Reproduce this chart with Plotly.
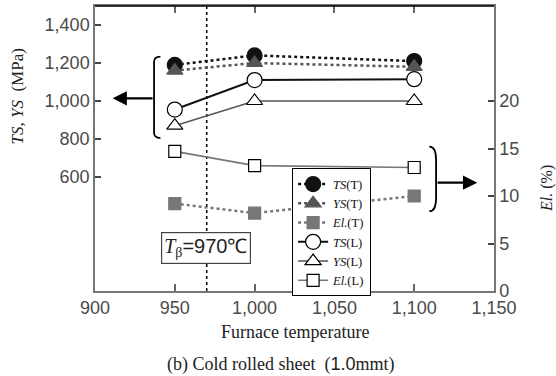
import plotly.graph_objects as go

temps = [950, 1000, 1100]
ts_t = [1190, 1240, 1210]
ys_t = [1160, 1200, 1180]
el_t = [9.2, 8.2, 10.0]
ts_l = [955, 1110, 1115]
ys_l = [870, 1000, 1000]
el_l = [14.7, 13.2, 13.0]

x_ticks = [900, 950, 1000, 1050, 1100, 1150]
y_ticks = [600, 800, 1000, 1200, 1400]
y2_ticks = [0, 5, 10, 15, 20]
t_beta = 970

SERIF = "Liberation Serif"
SANS = "Liberation Sans"

fig = go.Figure()

def add(name, x, y, color, dash, width, symbol, size, fill, yaxis="y"):
    fig.add_trace(go.Scatter(
        x=x, y=y, name=name, yaxis=yaxis, mode="lines+markers",
        line=dict(color=color, dash=dash, width=width),
        marker=dict(symbol=symbol, size=size, color=fill,
                    line=dict(color="black" if fill == "white" else fill, width=1.2)),
    ))

add("<i>TS</i>(T)", temps, ts_t, "#111", "dot", 2.5, "circle", 15, "#111")
add("<i>YS</i>(T)", temps, ys_t, "#555", "dot", 2.5, "triangle-up", 14, "#555")
add("<i>El.</i>(T)", temps, el_t, "#777", "dot", 2.5, "square", 12, "#777", "y2")
add("<i>TS</i>(L)", temps, ts_l, "#111", "solid", 2, "circle", 15, "white")
add("<i>YS</i>(L)", temps, ys_l, "#555", "solid", 1.6, "triangle-up", 14, "white")
add("<i>El.</i>(L)", temps, el_l, "#777", "solid", 1.6, "square", 12, "white", "y2")

tickfont = dict(family=SANS, size=18, color="#4a4a4a")

fig.update_layout(
    width=556, height=376,
    margin=dict(l=95, r=62, t=4, b=85),
    paper_bgcolor="white", plot_bgcolor="white",
    showlegend=True,
    legend=dict(x=0.494, y=0.43, xanchor="left", yanchor="top",
                bgcolor="white", bordercolor="black", borderwidth=1,
                font=dict(family=SERIF, size=12.5, color="#111"),
                tracegroupgap=0),
    xaxis=dict(range=[900, 1150], tickvals=x_ticks, tickformat=",",
               ticks="inside", ticklen=7, tickcolor="#666", tickwidth=1.5,
               showline=True, linecolor="#777", linewidth=1.5, mirror="ticks",
               showgrid=False, zeroline=False, tickfont=tickfont),
    yaxis=dict(range=[0, 1500], tickvals=y_ticks, tickformat=",",
               ticks="inside", ticklen=6, tickcolor="#444", tickwidth=1.5,
               showline=True, linecolor="#777", linewidth=1.5,
               showgrid=False, zeroline=False, tickfont=tickfont),
    yaxis2=dict(range=[0, 30], tickvals=y2_ticks, overlaying="y", side="right",
                ticks="inside", ticklen=6, tickcolor="#444", tickwidth=1.5,
                showline=True, linecolor="#777", linewidth=1.5,
                showgrid=False, zeroline=False, tickfont=tickfont),
)

# top frame line
fig.add_shape(type="line", xref="paper", yref="paper", x0=0, x1=1, y0=1, y1=1,
              line=dict(color="black", width=1.5))
# T_beta dotted line
fig.add_shape(type="line", xref="x", yref="paper", x0=t_beta, x1=t_beta, y0=0, y1=1,
              line=dict(color="black", width=1.5, dash="dot"), layer="below")

# left bracket
fig.add_shape(type="path", xref="x", yref="y",
              path="M 941,1234 Q 937,1234 937,1205 L 937,834 Q 937,805 941,805",
              line=dict(color="black", width=1.8))
fig.add_annotation(x=911, y=1014, ax=937, ay=1014, xref="x", yref="y", axref="x", ayref="y",
                   showarrow=True, arrowhead=2, arrowsize=1.3, arrowwidth=2.2,
                   arrowcolor="black", text="")
# right bracket
fig.add_shape(type="path", xref="x", yref="y2",
              path="M 1109.5,15.2 Q 1113.7,15.2 1113.7,13.8 L 1113.7,9.8 Q 1113.7,8.4 1109.5,8.4",
              line=dict(color="black", width=1.8))
fig.add_annotation(x=1139.5, y=11.4, ax=1113.7, ay=11.4, xref="x", yref="y2", axref="x", ayref="y2",
                   showarrow=True, arrowhead=2, arrowsize=1.3, arrowwidth=2.2,
                   arrowcolor="black", text="")

# T_beta box
fig.add_annotation(x=969.5, y=0.15, xref="x", yref="paper", showarrow=False,
                   xanchor="center", yanchor="middle",
                   text="<i>T</i><sub>β</sub><span style='font-family:Liberation Sans'>=970℃</span>",
                   font=dict(family=SERIF, size=20, color="#222"),
                   bgcolor="white", bordercolor="#444", borderwidth=1.2, borderpad=2)

# axis titles
fig.add_annotation(x=-0.195, y=0.683, xref="paper", yref="paper", showarrow=False, textangle=-90,
                   xanchor="center", yanchor="middle",
                   text="<i>TS</i>, <i>YS</i>  (MPa)", font=dict(family=SERIF, size=17, color="#222"))
fig.add_annotation(x=1.131, y=0.359, xref="paper", yref="paper", showarrow=False, textangle=-90,
                   xanchor="center", yanchor="middle",
                   text="<i>El.</i> (%)", font=dict(family=SERIF, size=16, color="#222"))
fig.add_annotation(x=0.5, y=-0.145, xref="paper", yref="paper", showarrow=False,
                   xanchor="center", yanchor="middle",
                   text="Furnace temperature", font=dict(family=SERIF, size=18, color="#222"))
fig.add_annotation(x=0.465, y=-0.257, xref="paper", yref="paper", showarrow=False,
                   xanchor="center", yanchor="middle",
                   text="(b) Cold rolled sheet  (<span style='font-family:Liberation Sans'>1.0</span>mmt)",
                   font=dict(family=SERIF, size=18, color="#222"))

fig.write_html("out.html")
